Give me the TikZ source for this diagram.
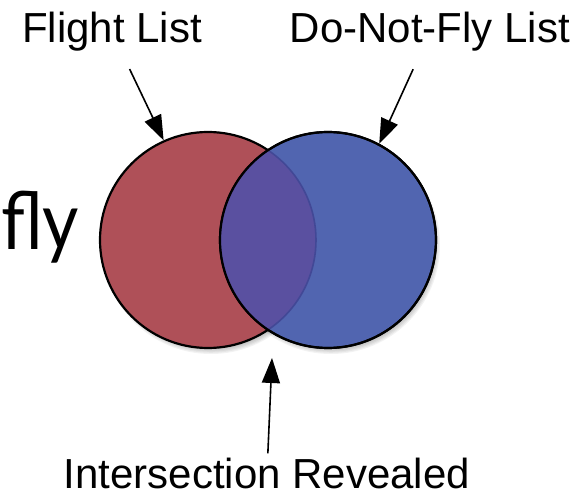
\documentclass[tikz,border=0pt]{standalone}
\usepackage{fontspec}
\setmainfont{Liberation Sans}
\newfontfamily\titlefont{Lato}
\usetikzlibrary{arrows.meta,positioning}
\definecolor{flightred}{RGB}{175,80,88}
\definecolor{noflyblue}{RGB}{81,101,176}
\definecolor{bothpurple}{RGB}{90,80,160}
\definecolor{hiddenedge}{RGB}{66,72,150}

\begin{document}
\begin{tikzpicture}[x=1pt, y=-1pt]
\tikzstyle{listlabel} = [font=\fontsize{42}{50}\selectfont, inner sep=0pt]
\tikzstyle{venn} = [circle, draw, line width=2.2pt, minimum size=216pt, inner sep=0pt]
\tikzstyle{arrow} = [line width=1.6pt, -{Triangle[length=25pt,width=18pt]}]

\useasboundingbox (0,0) rectangle (584,497);
\clip (0,0) rectangle (584,497);

\foreach \k in {0,...,5} {
  \fill[black, opacity=0.05] (211,245) circle ({103+\k*1.2pt});
  \fill[black, opacity=0.05] (331,245) circle ({103+\k*1.2pt});
}

\node [venn, fill=flightred] (red) at (208,240) {};
\node [venn, fill=noflyblue] (blue) at (328,240) {};
\begin{scope}
  \clip (red.center) circle (108pt);
  \fill [bothpurple] (blue.center) circle (108pt);
\end{scope}
\begin{scope}
  \clip (blue.center) circle (108pt);
  \draw [hiddenedge, line width=1.6pt] (red.center) circle (108pt);
\end{scope}
\draw [line width=2.2pt] (blue.center) circle (108pt);
\coordinate (meet) at (272,358);

\node [anchor=base west, inner sep=0pt, xscale=0.88, font=\titlefont\fontsize{80}{90}\selectfont] (title) at (1,250) {fly};

\node [listlabel, anchor=base] (flight) at (112,43) {Flight List};
\node [listlabel, anchor=base] (nofly) at (430,43) {Do-Not-Fly List};
\node [listlabel, anchor=base] (reveal) at (267,488) {Intersection Revealed};

\draw [arrow, shorten <=19pt] (flight) -- (red.114);
\draw [arrow, shorten <=19pt] (nofly) -- (blue.62);
\draw [arrow, shorten <=4pt] (reveal) -- (meet);
\end{tikzpicture}
\end{document}
